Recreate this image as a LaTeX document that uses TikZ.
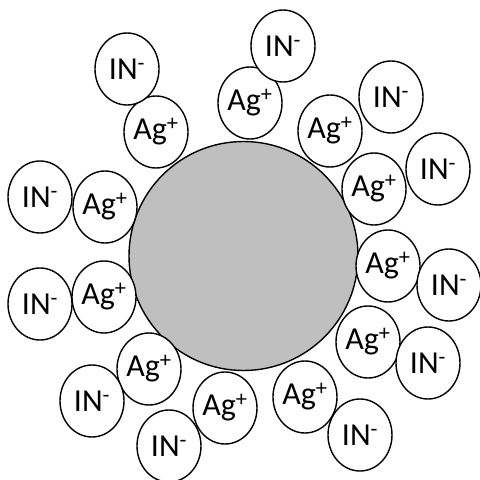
\documentclass[tikz,border=0pt]{standalone}
\usepackage{fontspec}
\setmainfont{Carlito}
\usetikzlibrary{shapes.geometric}
\definecolor{corefill}{RGB}{191,191,191}
\tikzset{
  ion/.style={draw=black, line width=1.4pt, fill=white, ellipse, minimum width=64pt, minimum height=72pt, inner sep=0pt, font=\fontsize{32}{33}\selectfont},
  core/.style={draw=black, line width=1.4pt, fill=corefill, circle, minimum size=229pt, inner sep=0pt}
}
\newcommand{\agp}{Ag\textsuperscript{+}}
\newcommand{\inm}{IN\textsuperscript{-}}
\begin{document}
\begin{tikzpicture}[x=1pt,y=-1pt]
\useasboundingbox (0,0) rectangle (480,480);
\node[core] (core) at (243.5,256) {};
% Ag+ ring
\node[ion] (a1) at (250,103) {\agp};
\node[ion] (a2) at (156,132) {\agp};
\node[ion] (a3) at (105,207) {\agp};
\node[ion] (a4) at (104,297) {\agp};
\node[ion] (a5) at (149,369) {\agp};
\node[ion] (a6) at (225,408) {\agp};
\node[ion] (a7) at (305,397) {\agp};
\node[ion] (a8) at (368,342) {\agp};
\node[ion] (a9) at (388,266) {\agp};
\node[ion] (a10) at (374,189) {\agp};
\node[ion] (a11) at (330,131) {\agp};
% IN- ring
\node[ion] (i1) at (283,46) {\inm};
\node[ion] (i2) at (127,69) {\inm};
\node[ion] (i3) at (40,197) {\inm};
\node[ion] (i4) at (40,304) {\inm};
\node[ion] (i5) at (92,401) {\inm};
\node[ion] (i6) at (169,446) {\inm};
\node[ion] (i7) at (360,435) {\inm};
\node[ion] (i8) at (428,363) {\inm};
\node[ion] (i9) at (449,285) {\inm};
\node[ion] (i10) at (438,169) {\inm};
\node[ion] (i11) at (391,97) {\inm};
\end{tikzpicture}
\end{document}
